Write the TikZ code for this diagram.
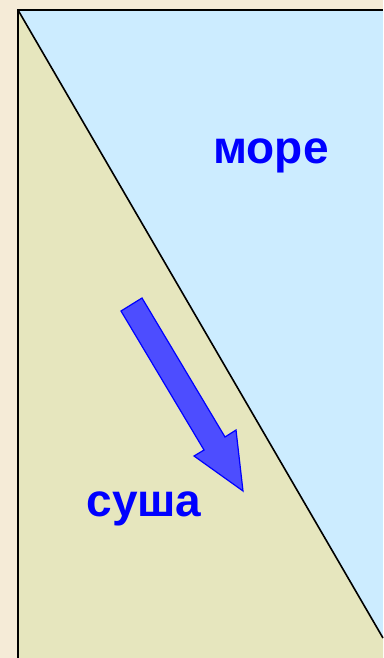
\documentclass[tikz,border=0pt]{standalone}
\usepackage{fontspec}
\setmainfont{Liberation Sans}
\definecolor{bgbeige}{RGB}{245,235,215}
\definecolor{sea}{RGB}{204,236,255}
\definecolor{land}{RGB}{230,230,190}
\definecolor{txtblue}{RGB}{0,0,255}
\definecolor{arrowfill}{RGB}{77,77,255}
\begin{document}
\begin{tikzpicture}[x=1pt,y=-1pt,
  label/.style={text=txtblue,font=\fontsize{46}{46}\selectfont\bfseries,anchor=base,inner sep=0pt},
  border/.style={draw=black,line width=2pt}]
\useasboundingbox (0,0) rectangle (383,658);
\fill[bgbeige] (0,0) rectangle (383,658);
\fill[sea] (18,10) rectangle (383,658);
\fill[land] (18,10) -- (383,638) -- (383,658) -- (18,658) -- cycle;
\draw[border] (18,658) -- (18,10) -- (383,10);
\draw[black,line width=1.6pt] (18,10) -- (383,638);
\fill[arrowfill,draw=txtblue,line width=1.2pt,line join=miter]
  (142,298) -- (225,437) -- (236,430) -- (243,491) -- (194,456) -- (204,450) -- (121,311) -- cycle;
\node[label] (sea) at (271,163) {море};
\node[label] (landtxt) at (144,516) {суша};
\end{tikzpicture}
\end{document}
